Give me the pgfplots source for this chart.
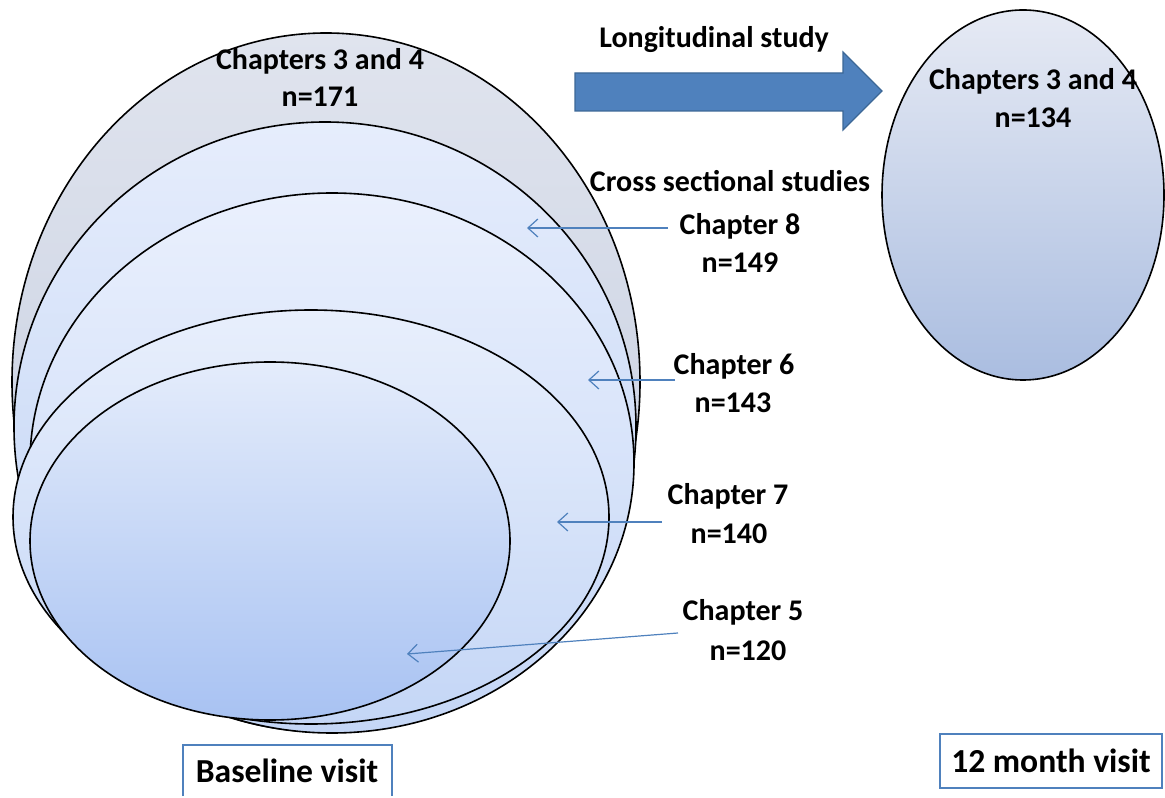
\documentclass[border=0pt]{standalone}
\usepackage{fontspec}
\setmainfont{Carlito}
\usepackage{pgfplots}
\pgfplotsset{compat=1.18}
\usetikzlibrary{arrows.meta}

\definecolor{offblue}{HTML}{4F81BD}
\definecolor{arrowedge}{HTML}{3C6796}

\tikzset{
  lbl/.style={font=\bfseries\fontsize{15}{18}\selectfont, anchor=base, inner sep=0pt},
  boxlbl/.style={font=\bfseries\fontsize{16.8}{20}\selectfont, anchor=base, inner sep=0pt},
  oval/.style={draw=black, line width=0.8pt},
  pointer/.style={draw=offblue, line width=0.6pt, -{Straight Barb[length=5pt,width=9pt]}},
}

\begin{document}
\begin{tikzpicture}
\begin{axis}[
    width=582.5pt, height=398pt,
    scale only axis,
    xmin=0, xmax=1165,
    ymin=0, ymax=796,
    hide axis,
    clip=false,
]
% keep the whole frame as the picture size
\path (axis cs:0,0) rectangle (axis cs:1165,796);

% baseline visit: nested samples (centre x, centre y, rx, ry in pixels of the original)
\draw[oval, top color={rgb,255:red,224;green,228;blue,238}, bottom color={rgb,255:red,194;green,203;blue,222}]
    (axis cs:326,414) ellipse [x radius=314, y radius=349];
\draw[oval, top color={rgb,255:red,230;green,237;blue,252}, bottom color={rgb,255:red,190;green,210;blue,244}]
    (axis cs:325,369) ellipse [x radius=311, y radius=305];
\draw[oval, top color={rgb,255:red,234;green,240;blue,253}, bottom color={rgb,255:red,196;green,214;blue,246}]
    (axis cs:332,333) ellipse [x radius=302, y radius=270];
\draw[oval, top color={rgb,255:red,232;green,239;blue,252}, bottom color={rgb,255:red,196;green,214;blue,246}]
    (axis cs:311,279) ellipse [x radius=298, y radius=207];
\draw[oval, top color={rgb,255:red,228;green,236;blue,251}, bottom color={rgb,255:red,168;green,194;blue,242}]
    (axis cs:270,255) ellipse [x radius=240, y radius=179];

% 12 month visit
\draw[oval, top color={rgb,255:red,230;green,234;blue,244}, bottom color={rgb,255:red,170;green,189;blue,224}]
    (axis cs:1023,601) ellipse [x radius=141, y radius=185];

% longitudinal block arrow
\draw[fill=offblue, draw=arrowedge, line width=0.6pt]
    (axis cs:575,723) -- (axis cs:843,723) -- (axis cs:843,744) -- (axis cs:882,705)
    -- (axis cs:843,666) -- (axis cs:843,685) -- (axis cs:575,685) -- cycle;

% pointers
\draw[pointer] (axis cs:668,568) -- (axis cs:527,568);
\draw[pointer] (axis cs:675,416) -- (axis cs:588,416);
\draw[pointer] (axis cs:662,274) -- (axis cs:557,274);
\draw[pointer] (axis cs:678,163) -- (axis cs:407,142);

% labels
\node[lbl] at (axis cs:320,726) {Chapters 3 and 4};
\node[lbl] at (axis cs:320,689) {n=171};
\node[lbl] at (axis cs:714,748) {Longitudinal study};
\node[lbl] at (axis cs:1033,706) {Chapters 3 and 4};
\node[lbl] at (axis cs:1033,668) {n=134};
\node[lbl] at (axis cs:730,604) {Cross sectional studies};
\node[lbl] at (axis cs:740,561) {Chapter 8};
\node[lbl] at (axis cs:740,523) {n=149};
\node[lbl] at (axis cs:734,421) {Chapter 6};
\node[lbl] at (axis cs:733,383) {n=143};
\node[lbl] at (axis cs:728,291) {Chapter 7};
\node[lbl] at (axis cs:729,253) {n=140};
\node[lbl] at (axis cs:743,176) {Chapter 5};
\node[lbl] at (axis cs:748,136) {n=120};

% visit boxes
\draw[offblue, line width=1.4pt] (axis cs:183,0) -- (axis cs:183,51) -- (axis cs:392,51) -- (axis cs:392,0);
\node[boxlbl] at (axis cs:287,14) {Baseline visit};
\draw[offblue, line width=1.4pt] (axis cs:940,8) rectangle (axis cs:1162,62);
\node[boxlbl] at (axis cs:1051,24) {12 month visit};
\end{axis}
\end{tikzpicture}
\end{document}
